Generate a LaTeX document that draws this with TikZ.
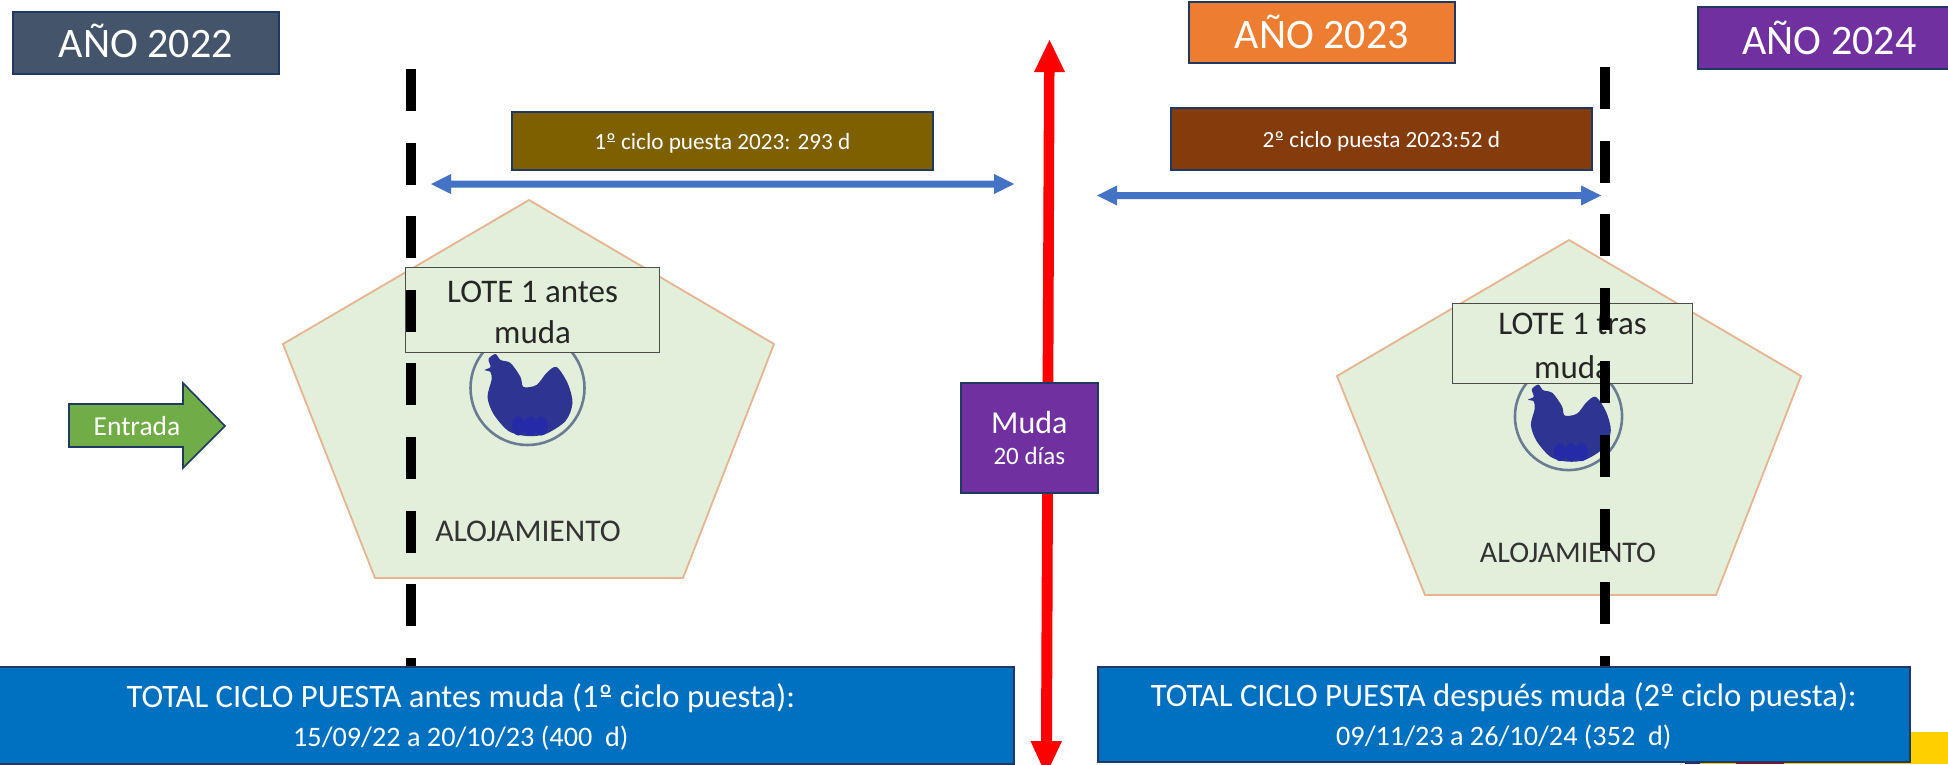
\documentclass[tikz,border=0pt]{standalone}
\usepackage{fontspec}
\setmainfont{Carlito}
\definecolor{edgeblue}{HTML}{1F3864}
\definecolor{paleg}{HTML}{E2EFDA}
\definecolor{henblue}{HTML}{2E3492}
\definecolor{blue0}{HTML}{0070C0}
\definecolor{blue1}{HTML}{4472C4}
\definecolor{circgray}{HTML}{6A7C94}
\definecolor{y22}{HTML}{44546A}
\definecolor{y23}{HTML}{ED7D31}
\definecolor{y24}{HTML}{7030A0}
\definecolor{c1}{HTML}{7F6000}
\definecolor{c2}{HTML}{843C0C}
\definecolor{ent}{HTML}{70AD47}
\definecolor{logoy}{HTML}{FFD000}
\definecolor{logon}{HTML}{1F2A6B}
\definecolor{pentedge}{HTML}{E8B48F}
\newcommand{\ordm}{\mbox{º\kern-0.36em\rule[0.32em]{0.32em}{0.05em}\kern0.04em}}
\newcommand{\shft}[2]{\raisebox{-#1pt}[\height][\depth]{#2}}
\tikzset{
  x=1pt,y=-1pt,
  yearbox/.style={draw=edgeblue,line width=1.6pt,text=white,font=\fontsize{42}{42}\selectfont,align=center,inner sep=0pt},
  cyclebox/.style={draw=edgeblue,line width=1.6pt,text=white,font=\fontsize{23.2}{24}\selectfont,align=center,inner sep=0pt},
  totalbox/.style={draw=edgeblue,line width=1.6pt,fill=blue0,text=white,align=center,inner sep=0pt},
  lotebox/.style={draw=black!70,line width=1.2pt,fill=paleg,text=black!85,font=\fontsize{33}{41}\selectfont,align=center,inner sep=0pt},
  pent/.style={draw=pentedge,line width=1.8pt,fill=paleg},
  dashline/.style={line width=10.5pt,dash pattern=on 42pt off 31.6pt},
  spanarrow/.style={fill=blue1},
}
\newcommand{\boxat}[7][]{%
  \node[#1,minimum width=#5pt-#3pt,minimum height=#6pt-#4pt,anchor=north west] (#2) at (#3,#4) {#7};}
\newcommand{\henshape}[3]{%
  \begin{scope}[shift={(#1,#2)},scale=#3]
    \draw[draw=circgray,line width=2.6pt] (0,0) circle[radius=57];
    \fill[henblue] plot[smooth cycle,tension=.5] coordinates {
      (-17,-25) (-7,-11) (-4,-1) (9,-3) (19,-15) (29,-21) (40,-5) (45,15) (38,33) (18,46) (-1,48) (-19,43) (-34,26) (-40,9) (-36,-8) (-37,-16) (-43,-18) (-37,-21) (-39,-29) (-32,-34) (-27,-28)};
    \fill[henblue!80!blue] (-9,38) circle[x radius=6.5,y radius=9.5] (3,38) circle[x radius=6.5,y radius=9.5] (14,38) circle[x radius=6.5,y radius=9.5];
  \end{scope}}
\begin{document}
\begin{tikzpicture}
\useasboundingbox (0,0) rectangle (1948,764);
\clip (0,0) rectangle (1948,764);
\fill[white] (0,0) rectangle (1948,764);

% logo remnant behind bottom box
\fill[logoy] (1700,732) rectangle (1948,764);
\fill[logon] (1685,761) rectangle (1700,764);
\fill[red!70!black] (1736,761) rectangle (1784,764);

% pentagons
\path[pent] (529,200) -- (774,344) -- (683,578) -- (375,578) -- (283,344) -- cycle;
\path[pent] (1569,240) -- (1801,376) -- (1716,595) -- (1425,595) -- (1337,376) -- cycle;
\henshape{527.5}{388}{1}
\henshape{1568.5}{416.5}{.94}
\node[font=\fontsize{31.6}{31}\selectfont,text=black!80] (aloja1) at (528,531) {ALOJAMIENTO};
\node[font=\fontsize{30}{31}\selectfont,text=black!80] (aloja2) at (1568,552.5) {ALOJAMIENTO};
\boxat[lotebox]{lote1}{405}{267}{659}{352}{\shft{2.5}{LOTE 1 antes}\\\shft{2.5}{muda}}
\boxat[lotebox]{lote2}{1452}{303}{1692}{383}{\shft{1}{LOTE 1 tras}\\\shft{4}{muda}}

% dashed year limits
\coordinate (d1a) at (411,69); \coordinate (d1b) at (411,710);
\coordinate (d2a) at (1605,67); \coordinate (d2b) at (1605,708);
\draw[dashline] (d1a) -- (d1b);
\draw[dashline] (d2a) -- (d2b);

% red arrow
\fill[red] (1049.5,40) -- (1065,72) -- (1054.5,72) -- (1052,741) -- (1062,741) -- (1046,775) -- (1030.5,741) -- (1041,741) -- (1044,72) -- (1034,72) -- cycle;

% span arrows
\fill[spanarrow] (431,184) -- (451,174) -- (451,180.5) -- (994,180.5) -- (994,174) -- (1014,184) -- (994,194) -- (994,187.5) -- (451,187.5) -- (451,194) -- cycle;
\fill[spanarrow] (1097,195.5) -- (1117,185.5) -- (1117,192) -- (1581,192) -- (1581,185.5) -- (1601,195.5) -- (1581,205.5) -- (1581,199) -- (1117,199) -- (1117,205.5) -- cycle;

% boxes
\boxat[yearbox,fill=y22]{y1}{12}{11}{278}{73}{\shft{-1.5}{AÑO 2022}}
\boxat[yearbox,fill=y23]{y2}{1188}{1}{1454}{62}{AÑO 2023}
\boxat[yearbox,fill=y24]{y3}{1697}{6}{1960}{68}{AÑO 2024}
\boxat[cyclebox,fill=c1]{c1}{511}{111}{932}{169}{\shft{2.5}{1\ordm{} ciclo puesta 2023: 293 d}}
\boxat[cyclebox,fill=c2]{c2}{1170}{107}{1591}{169}{\shft{2.5}{2\ordm{} ciclo puesta 2023:52 d}}
\boxat[yearbox,fill=y24,font=\fontsize{32}{32}\selectfont]{muda}{960}{382}{1097}{492}{Muda\\[-1pt]{\fontsize{25}{30}\selectfont 20 días}}

% entrance arrow
\path[draw=edgeblue,line width=1.6pt,fill=ent] (69,404) -- (183,404) -- (183,383) -- (225,426) -- (183,468) -- (183,447) -- (69,447) -- cycle;
\node[text=white,font=\fontsize{27.5}{27}\selectfont] (entrada) at (137,426) {Entrada};

% totals
\boxat[totalbox]{t1}{-93}{666}{1013}{763}{\shft{2.5}{\fontsize{32.7}{38}\selectfont TOTAL CICLO PUESTA antes muda (1\ordm{} ciclo puesta):}\\[14pt]\shft{1}{\fontsize{28.2}{34}\selectfont 15/09/22 a 20/10/23 (400\ \ d)}}
\boxat[totalbox]{t2}{1097}{666}{1909}{761}{\shft{2.5}{\fontsize{32.7}{38}\selectfont TOTAL CICLO PUESTA después muda (2\ordm{} ciclo puesta):}\\[14pt]\shft{1}{\fontsize{28.2}{34}\selectfont 09/11/23 a 26/10/24 (352\ \ d)}}
\end{tikzpicture}
\end{document}
